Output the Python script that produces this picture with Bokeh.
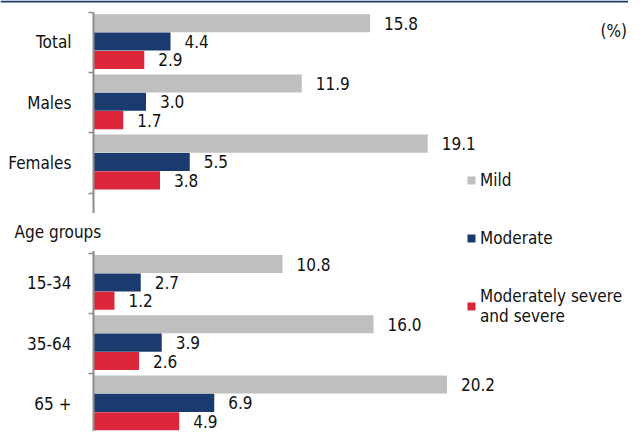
from bokeh.plotting import figure
from bokeh.models import (ColumnDataSource, Range1d, LinearAxis, FixedTicker,
                          Label, Legend, LegendItem, BoxAnnotation)
from bokeh.core.properties import value
from bokeh.embed import file_html
from bokeh.resources import INLINE

# ---- data ----
groups = ["Total", "Males", "Females", "15-34", "35-64", "65 +"]
section_label = "Age groups"
mild = [15.8, 11.9, 19.1, 10.8, 16.0, 20.2]
moderate = [4.4, 3.0, 5.5, 2.7, 3.9, 6.9]
severe = [2.9, 1.7, 3.8, 1.2, 2.6, 4.9]
series_names = ["Mild", "Moderate", "Moderately severe\nand severe"]
unit_label = "(%)"

FONT = "DejaVu Sans Condensed, DejaVu Sans"
FS = "17px"
TXT = "#111111"
colors = ["#bfbfbf", "#1b3a6e", "#dc2639"]

# slot index: a blank slot between the sexes block and the age block
slots = [i if i < 3 else i + 1 for i in range(len(groups))]
n_slots = len(groups) + 1

W, H = 628, 431
k = H / 447.0
px_per_unit = 17.5
x0 = 93                      # screen x of the value axis
band = 62.45 * k             # px per category slot
top = -0.5 - 12.3 * k / band # data y at the top edge of the frame

p = figure(width=W, height=H, output_backend="svg", toolbar_location=None,
           x_axis_location=None, y_axis_location=None,
           min_border_left=0, min_border_right=0, min_border_top=0,
           min_border_bottom=0)
p.x_range = Range1d(-x0 / px_per_unit, (W - x0) / px_per_unit)
p.y_range = Range1d(top + H / band, top)
p.outline_line_color = None
p.xgrid.visible = False
p.ygrid.visible = False
p.background_fill_color = "white"
p.border_fill_color = "white"

offsets = [-0.32, -0.015, 0.29]
renderers = []
for vals, col, off in zip([mild, moderate, severe], colors, offsets):
    src = ColumnDataSource(dict(
        y=[s + off for s in slots], x=vals,
        txt=["%.1f" % v for v in vals]))
    r = p.hbar(y="y", right="x", left=0, height=0.30, source=src,
               fill_color=col, line_color=None)
    renderers.append(r)
    p.text(x="x", y="y", text="txt", source=src, x_offset=14,
           text_align="left", text_baseline="middle",
           text_font=value(FONT), text_font_size=FS, text_color=TXT)

# category axis at x = 0: labels at slot centres, ticks at slot boundaries
ax = LinearAxis(fixed_location=0,
                ticker=FixedTicker(ticks=slots,
                                   minor_ticks=[i - 0.5 for i in range(n_slots + 1)]))
ax.bounds = (-0.5, n_slots - 0.5)
ax.major_label_overrides = {s: g for s, g in zip(slots, groups)}
ax.major_tick_out = 0
ax.major_tick_in = 0
ax.minor_tick_out = 5
ax.minor_tick_in = 0
ax.minor_tick_line_color = "#8c8c8c"
ax.minor_tick_line_width = 1.5
ax.axis_line_color = "#8c8c8c"
ax.axis_line_width = 2
ax.major_label_standoff = 17
ax.major_label_text_font = FONT
ax.major_label_text_font_size = FS
ax.major_label_text_color = TXT
p.add_layout(ax, "left")

# section label, on a white box that breaks the axis line
p.add_layout(Label(x=(5 - x0) / px_per_unit, y=top + 240 * k / band,
                   text=section_label, text_align="left", text_baseline="middle",
                   text_font=FONT, text_font_size=FS, text_color=TXT,
                   background_fill_color="white", padding=9, level="overlay"))

# unit label
p.add_layout(Label(x=(600 - x0) / px_per_unit, y=top + 32 * k / band,
                   text=unit_label, text_align="left", text_baseline="middle",
                   text_font=FONT, text_font_size=FS, text_color=TXT))

# top rule
p.add_layout(BoxAnnotation(top=top, bottom=top + 2 / band,
                           fill_color="#1b3a6e", fill_alpha=1, line_color=None,
                           level="overlay"))

legend = Legend(items=[LegendItem(label=n, renderers=[r])
                       for n, r in zip(series_names, renderers)],
                location=(466, 105), orientation="vertical",
                glyph_width=10, glyph_height=10, label_standoff=4,
                label_height=20, spacing=38, padding=0, margin=0,
                border_line_color=None, background_fill_alpha=0,
                label_text_font=FONT, label_text_font_size=FS,
                label_text_color=TXT)
p.add_layout(legend)

open("out.html", "w").write(file_html(p, INLINE))
